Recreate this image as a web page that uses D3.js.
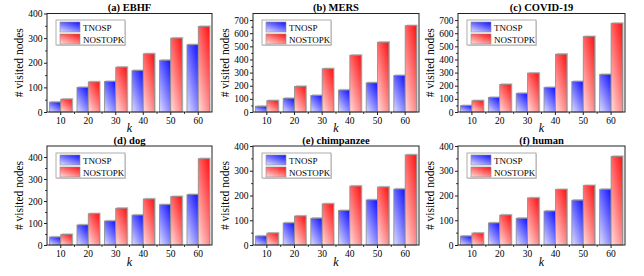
<!DOCTYPE html>
<html><head><meta charset="utf-8">
<script src="https://cdn.jsdelivr.net/npm/d3@7"></script>
<style>
body{margin:0;background:#fff}
svg{display:block}
svg text{font-family:"Liberation Serif","Times New Roman",serif;fill:#000}
</style></head><body>
<svg id="c" width="644" height="276"></svg>
<script>
const categories=[10,20,30,40,50,60];
const seriesNames=["TNOSP","NOSTOPK"];
const titles=["(a) EBHF","(b) MERS","(c) COVID-19","(d) dog","(e) chimpanzee","(f) human"];
const tnospEBHF=[40,100,124,168,210,273];
const nostopkEBHF=[52,122,182,236,300,347];
const tnospMERS=[43,104,126,167,222,278];
const nostopkMERS=[86,195,329,432,531,657];
const tnospCOVID=[48,111,142,187,232,286];
const nostopkCOVID=[86,210,296,440,574,675];
const tnospDog=[36,91,109,136,183,229];
const nostopkDog=[48,142,167,209,220,392];
const tnospChimp=[36,89,108,139,182,226];
const nostopkChimp=[48,117,166,238,234,364];
const tnospHuman=[36,89,108,137,181,225];
const nostopkHuman=[48,121,190,224,240,358];
const yMax=[400,750,750,450,400,400];
const yTickStep=100;
const yLabel="# visited nodes";
const xLabel="k";

const seriesData=[
  [tnospEBHF,nostopkEBHF],[tnospMERS,nostopkMERS],[tnospCOVID,nostopkCOVID],
  [tnospDog,nostopkDog],[tnospChimp,nostopkChimp],[tnospHuman,nostopkHuman]
];

const FONT='"Liberation Serif","Times New Roman",serif';
const svg=d3.select("#c");
const defs=svg.append("defs");
const grads=[["gBlue","#1c1cff","#d2d2ff"],["gRed","#ff1c1c","#ffd2d2"]];
grads.forEach(([id,c1,c2])=>{
  const g=defs.append("linearGradient").attr("id",id)
    .attr("x1",0.85).attr("y1",0).attr("x2",0.15).attr("y2",1);
  g.append("stop").attr("offset","0%").attr("stop-color",c1);
  g.append("stop").attr("offset","100%").attr("stop-color",c2);
});
const fills=["url(#gBlue)","url(#gRed)"];

const cols=[[47,212],[253,419],[458,625]];
const rows=[[13.5,112],[146,245]];

titles.forEach((title,i)=>{
  const [x0,x1]=cols[i%3];
  const [y0,y1]=rows[Math.floor(i/3)];
  const g=svg.append("g").attr("font-family",FONT);
  const x=d3.scaleBand().domain(categories).range([x0,x1]).paddingInner(0.18).paddingOuter(0.09);
  const xs=d3.scaleBand().domain([0,1]).range([0,x.bandwidth()]);
  const y=d3.scaleLinear().domain([0,yMax[i]]).range([y1,y0]);

  const data=seriesData[i];
  data.forEach((vals,s)=>{
    vals.forEach((v,k)=>{
      const bx=x(categories[k])+xs(s), bw=xs.bandwidth();
      g.append("rect").attr("x",bx+1.2).attr("y",y(v)-1.2).attr("width",bw).attr("height",y(0)-y(v)+1.2)
        .attr("fill","#c4c4c4");
      g.append("rect").attr("x",bx).attr("y",y(v)).attr("width",bw).attr("height",y(0)-y(v))
        .attr("fill",fills[s]).attr("stroke","#8c8c8c").attr("stroke-width",0.8);
    });
  });

  g.append("rect").attr("x",x0).attr("y",y0).attr("width",x1-x0).attr("height",y1-y0)
    .attr("fill","none").attr("stroke","#222").attr("stroke-width",1);

  const ticks=d3.range(0,yMax[i]+1,yTickStep);
  const yAxis=d3.axisLeft(y).tickValues(ticks).tickSize(3).tickPadding(1.5).tickFormat(d3.format("d"));
  const ya=g.append("g").attr("transform",`translate(${x0},0)`).call(yAxis).attr("font-family",FONT);
  ya.select(".domain").remove();
  ya.selectAll("text").style("font-size","9.5px");
  ya.selectAll("line").attr("stroke","#222");
  const minorY=d3.range(yTickStep/2,yMax[i],yTickStep);
  const yam=g.append("g").attr("transform",`translate(${x0},0)`).call(d3.axisLeft(y).tickValues(minorY).tickSize(1.8).tickFormat(""));
  yam.select(".domain").remove(); yam.selectAll("line").attr("stroke","#222");

  const xAxis=d3.axisBottom(x).tickSize(3).tickPadding(2);
  const xa=g.append("g").attr("transform",`translate(0,${y1})`).call(xAxis).attr("font-family",FONT);
  xa.select(".domain").remove();
  xa.selectAll("text").style("font-size","9.5px");
  xa.selectAll("line").attr("stroke","#222");
  const bounds=categories.slice(1).map(c=>x(c)-x.step()*x.paddingInner()/2);
  xa.selectAll(".minor").data(bounds).enter().append("line").attr("class","minor")
    .attr("x1",d=>d).attr("x2",d=>d).attr("y1",0).attr("y2",1.8).attr("stroke","#222");

  const r=Math.floor(i/3);
  g.append("text").attr("x",(x0+x1)/2).attr("y",r===0?11:143.5).attr("text-anchor","middle")
    .style("font-size","10.5px").style("font-weight","bold").text(title);
  g.append("text").attr("x",(x0+x1)/2).attr("y",r===0?132:266).attr("text-anchor","middle")
    .style("font-size","12px").style("font-style","italic").text(xLabel);
  g.append("text").attr("transform",`translate(${x0-24},${(y0+y1)/2}) rotate(-90)`)
    .attr("text-anchor","middle").style("font-size","11.5px").text(yLabel);

  const lx=x0+9, ly=y0+(r===0?6.5:7);
  const lg=g.append("g").attr("transform",`translate(${lx},${ly})`);
  lg.append("rect").attr("x",1).attr("y",1).attr("width",69).attr("height",25).attr("fill","#d8d8d8");
  lg.append("rect").attr("width",69).attr("height",25).attr("fill","#fff").attr("stroke","#9a9a9a").attr("stroke-width",0.8);
  seriesNames.forEach((n,s)=>{
    lg.append("rect").attr("x",4).attr("y",2+s*12).attr("width",20).attr("height",10)
      .attr("fill",fills[s]).attr("stroke","#8c8c8c").attr("stroke-width",0.6);
    lg.append("text").attr("x",27).attr("y",10.5+s*12).style("font-size","9px").text(n);
  });
});
</script></body></html>
